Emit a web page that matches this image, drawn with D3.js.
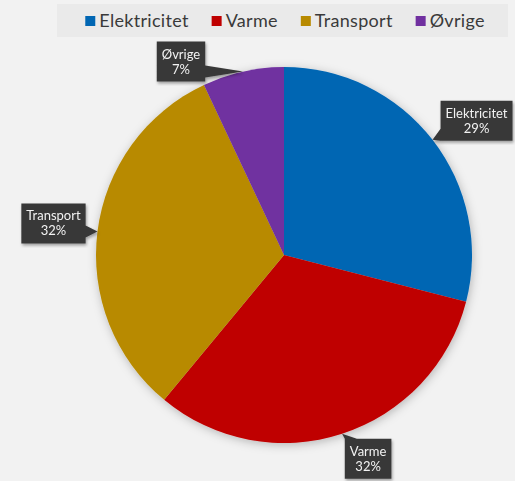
<!DOCTYPE html>
<head>
  <title>Energiforbrug</title>
  <meta charset="utf-8">
  <style>
    body { margin: 0; background: #f2f2f2; }
    svg { display: block; font-family: Lato, "Open Sans", sans-serif; }
  </style>
</head>
<body>
  <script src="https://cdn.jsdelivr.net/npm/d3@7"></script>
  <script>
    // data
    const categories = ["Elektricitet", "Varme", "Transport", "Øvrige"];
    const shares = [29, 32, 32, 7];
    const colors = ["#0066b3", "#bf0000", "#b88a00", "#7030a0"];
    // label box offset from the slice edge point (layout only)
    const labelOffsets = [[44, -19], [26, 25], [-44, -8], [-62, -10]];

    const width = 515, height = 481;
    const cx = 284, cy = 255, radius = 188;

    const svg = d3.select("body").append("svg")
      .attr("width", width)
      .attr("height", height);

    const defs = svg.append("defs");
    defs.append("filter").attr("id", "shadow")
      .attr("x", "-20%").attr("y", "-20%").attr("width", "140%").attr("height", "140%")
      .append("feDropShadow")
      .attr("dx", 1).attr("dy", 2).attr("stdDeviation", 5)
      .attr("flood-color", "#000").attr("flood-opacity", 0.25);
    defs.append("filter").attr("id", "boxshadow")
      .append("feDropShadow")
      .attr("dx", 1).attr("dy", 2).attr("stdDeviation", 1.5)
      .attr("flood-color", "#000").attr("flood-opacity", 0.35);

    svg.append("rect").attr("width", width).attr("height", height).attr("fill", "#f2f2f2");

    // legend
    const legend = svg.append("g").attr("id", "legend");
    legend.append("rect")
      .attr("x", 57).attr("y", 4).attr("width", 451).attr("height", 33)
      .attr("fill", "#eaeaea");
    const items = legend.append("g");
    let lx = 0;
    categories.forEach(function (c, i) {
      const g = items.append("g").attr("transform", `translate(${lx},0)`);
      g.append("rect").attr("x", 0).attr("y", 16).attr("width", 10).attr("height", 10)
        .attr("fill", colors[i]);
      const t = g.append("text").attr("x", 14).attr("y", 27)
        .attr("font-size", 18).attr("letter-spacing", 0.3).attr("fill", "#3a3a3a").text(c);
      lx += 14 + t.node().getComputedTextLength() + 23;
    });
    const itemsW = lx - 23;
    items.attr("transform", `translate(${285 - itemsW / 2},0)`);

    // pie
    const pie = d3.pie().sort(null).value(d => d)(shares);
    const arc = d3.arc().innerRadius(0).outerRadius(radius);
    const edge = d3.arc().innerRadius(radius).outerRadius(radius);

    const chart = svg.append("g").attr("transform", `translate(${cx},${cy})`);
    chart.append("g").attr("filter", "url(#shadow)")
      .selectAll("path")
      .data(pie)
      .enter()
      .append("path")
      .attr("d", arc)
      .attr("fill", (d, i) => colors[i]);

    // callout labels
    const labels = chart.append("g").attr("id", "labels");
    pie.forEach(function (d, i) {
      const tip = edge.centroid(d);
      const bx = tip[0] + labelOffsets[i][0], by = tip[1] + labelOffsets[i][1];
      const g = labels.append("g").attr("filter", "url(#boxshadow)");
      const box = g.append("path").attr("fill", "#383838");
      const t1 = g.append("text").attr("x", bx).attr("y", by - 3)
        .attr("text-anchor", "middle").attr("font-size", 13).attr("fill", "#f2f2f2")
        .text(categories[i]);
      g.append("text").attr("x", bx).attr("y", by + 12)
        .attr("text-anchor", "middle").attr("font-size", 13).attr("fill", "#f2f2f2")
        .text(shares[i] + "%");
      const w = t1.node().getComputedTextLength() + 10, h = 40;
      const x0 = bx - w / 2, x1 = bx + w / 2, y0 = by - h / 2, y1 = by + h / 2;
      const tx = tip[0], ty = tip[1];
      const dx = Math.max(x0 - tx, tx - x1, 0), dy = Math.max(y0 - ty, ty - y1, 0);
      const p = d3.path();
      const hw = 6;
      const clamp = (v, a, b) => Math.max(a + hw, Math.min(b - hw, v));
      p.moveTo(x0, y0);
      if (dx >= dy && tx < x0) {
        const m = clamp(ty, y0, y1);
        p.lineTo(x1, y0); p.lineTo(x1, y1); p.lineTo(x0, y1);
        p.lineTo(x0, m + hw); p.lineTo(tx, ty); p.lineTo(x0, m - hw);
      } else if (dx >= dy) {
        const m = clamp(ty, y0, y1);
        p.lineTo(x1, y0); p.lineTo(x1, m - hw); p.lineTo(tx, ty); p.lineTo(x1, m + hw);
        p.lineTo(x1, y1); p.lineTo(x0, y1);
      } else if (ty < y0) {
        const m = clamp(tx, x0, x1);
        p.lineTo(m - hw, y0); p.lineTo(tx, ty); p.lineTo(m + hw, y0);
        p.lineTo(x1, y0); p.lineTo(x1, y1); p.lineTo(x0, y1);
      } else {
        const m = clamp(tx, x0, x1);
        p.lineTo(x1, y0); p.lineTo(x1, y1); p.lineTo(m + hw, y1);
        p.lineTo(tx, ty); p.lineTo(m - hw, y1); p.lineTo(x0, y1);
      }
      p.closePath();
      box.attr("d", p.toString());
    });
  </script>
</body>
